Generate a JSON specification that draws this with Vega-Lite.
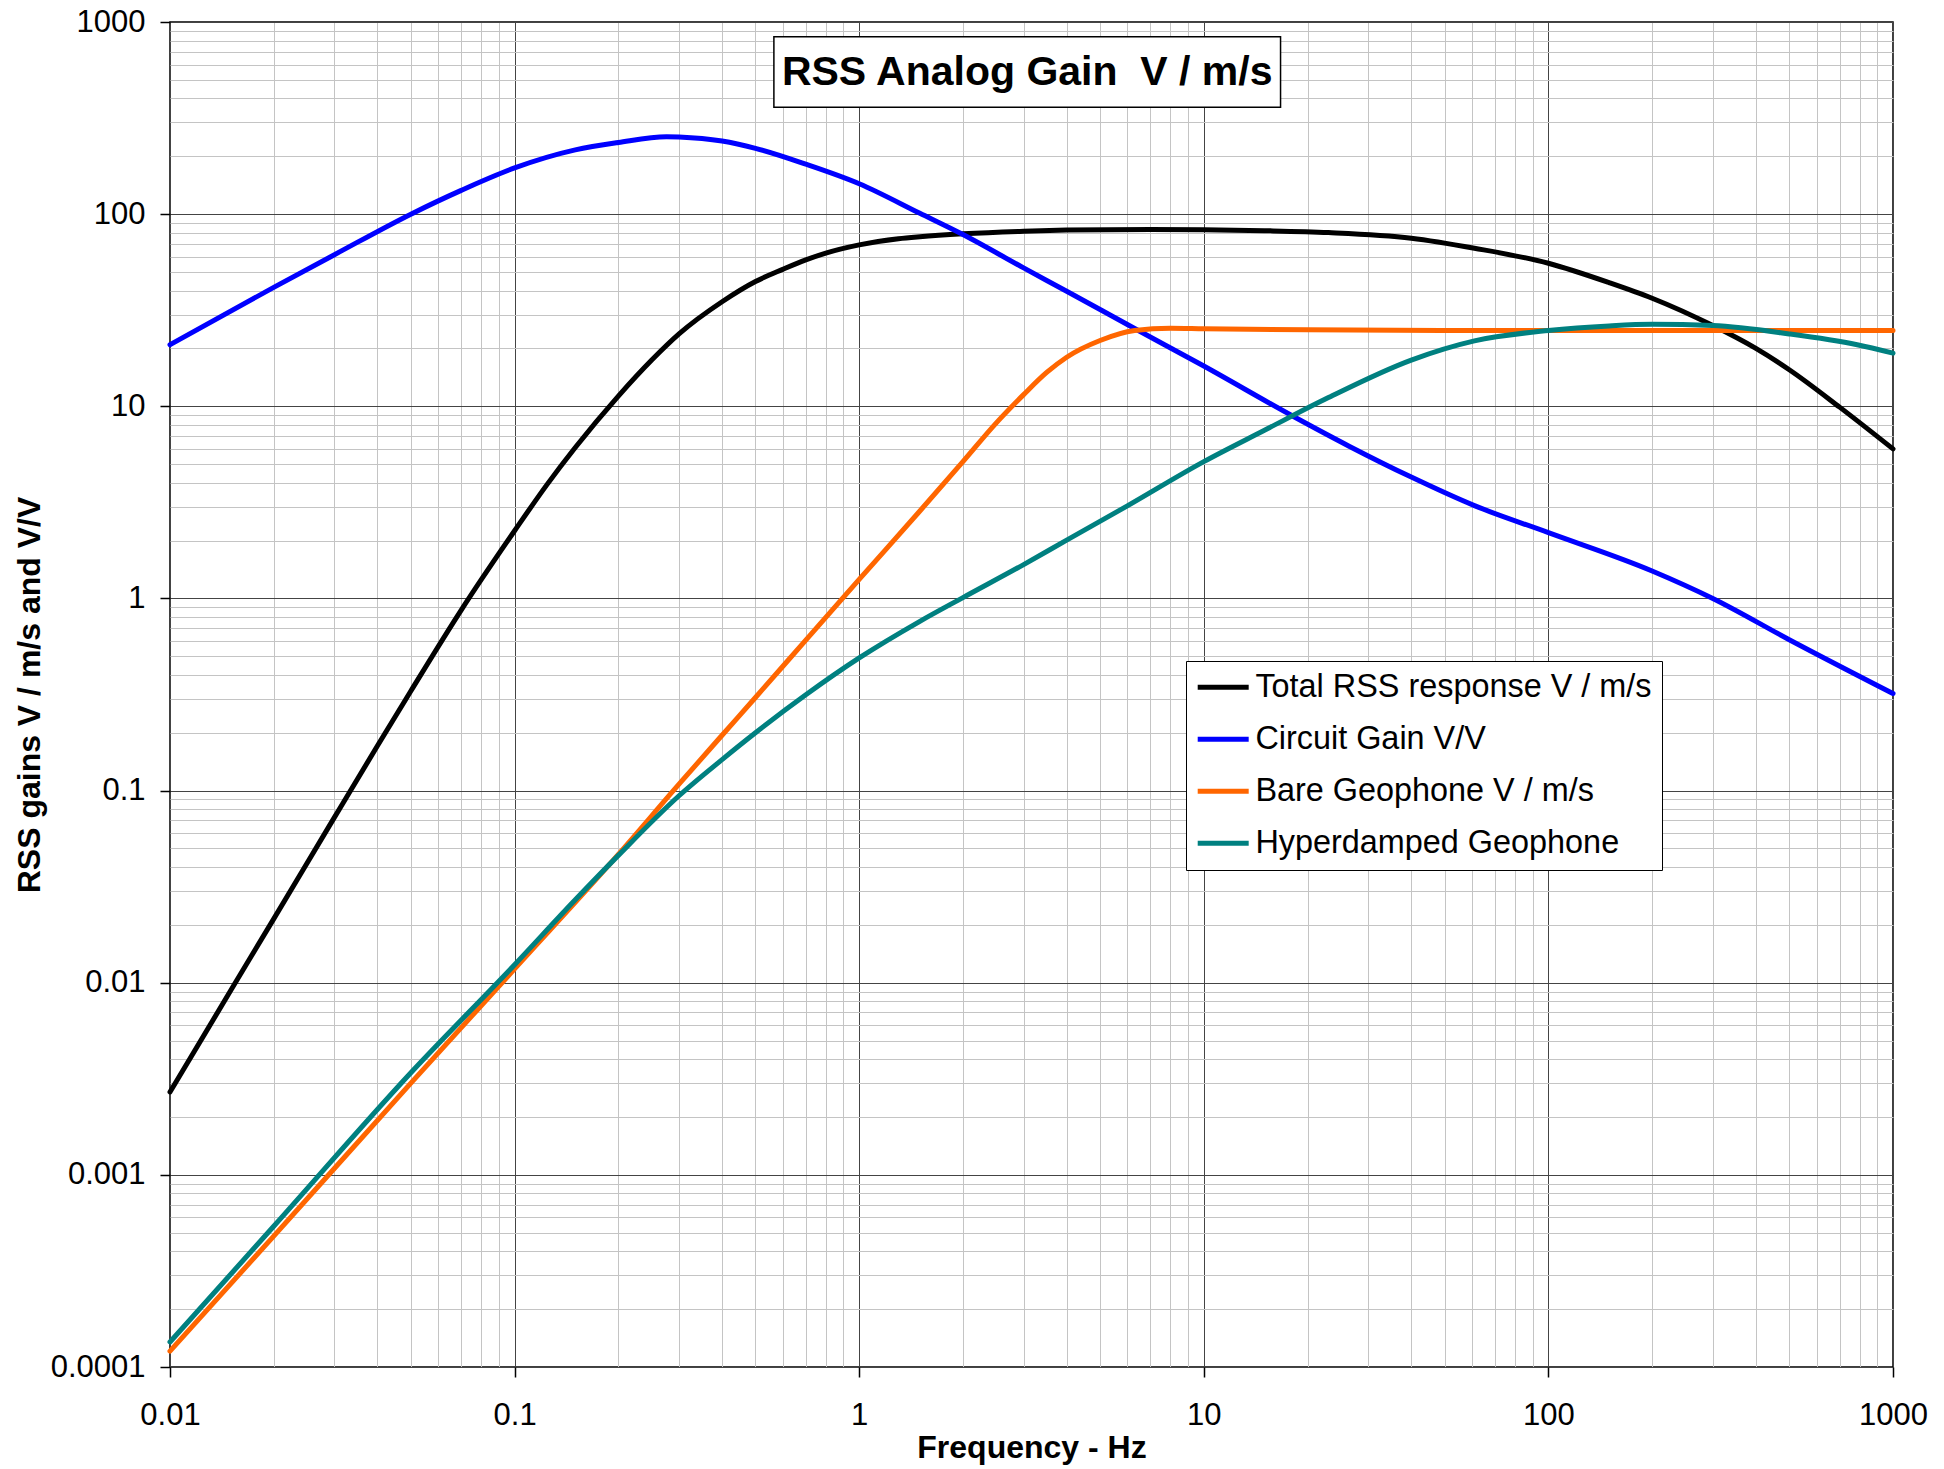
{
  "$schema": "https://vega.github.io/schema/vega-lite/v6.json",
  "width": 1723,
  "height": 1345,
  "autosize": {"type": "none"},
  "padding": {"left": 170, "top": 22, "right": 51, "bottom": 102},
  "background": "white",
  "config": {
    "font": "Liberation Sans",
    "view": {"stroke": "black", "strokeWidth": 1.5}
  },
  "datasets": {
    "curves": [
      {"s": "Total RSS response V / m/s", "f": 0.01, "v": 0.0027},
      {"s": "Total RSS response V / m/s", "f": 0.015, "v": 0.0091},
      {"s": "Total RSS response V / m/s", "f": 0.02, "v": 0.0215},
      {"s": "Total RSS response V / m/s", "f": 0.03, "v": 0.0725},
      {"s": "Total RSS response V / m/s", "f": 0.04, "v": 0.171},
      {"s": "Total RSS response V / m/s", "f": 0.05, "v": 0.33},
      {"s": "Total RSS response V / m/s", "f": 0.07, "v": 0.87},
      {"s": "Total RSS response V / m/s", "f": 0.1, "v": 2.25},
      {"s": "Total RSS response V / m/s", "f": 0.124, "v": 3.9},
      {"s": "Total RSS response V / m/s", "f": 0.15, "v": 6.1},
      {"s": "Total RSS response V / m/s", "f": 0.2, "v": 11.3},
      {"s": "Total RSS response V / m/s", "f": 0.25, "v": 17.4},
      {"s": "Total RSS response V / m/s", "f": 0.3, "v": 23.8},
      {"s": "Total RSS response V / m/s", "f": 0.4, "v": 35},
      {"s": "Total RSS response V / m/s", "f": 0.5, "v": 44.6},
      {"s": "Total RSS response V / m/s", "f": 0.6, "v": 51.6},
      {"s": "Total RSS response V / m/s", "f": 0.7, "v": 57.8},
      {"s": "Total RSS response V / m/s", "f": 0.8, "v": 62.7},
      {"s": "Total RSS response V / m/s", "f": 1, "v": 69.2},
      {"s": "Total RSS response V / m/s", "f": 1.3, "v": 74.5},
      {"s": "Total RSS response V / m/s", "f": 1.5, "v": 76.3},
      {"s": "Total RSS response V / m/s", "f": 2, "v": 79},
      {"s": "Total RSS response V / m/s", "f": 3, "v": 81.5},
      {"s": "Total RSS response V / m/s", "f": 4, "v": 82.6},
      {"s": "Total RSS response V / m/s", "f": 7, "v": 83.3},
      {"s": "Total RSS response V / m/s", "f": 10, "v": 83},
      {"s": "Total RSS response V / m/s", "f": 15, "v": 82},
      {"s": "Total RSS response V / m/s", "f": 23, "v": 80.2},
      {"s": "Total RSS response V / m/s", "f": 40, "v": 75},
      {"s": "Total RSS response V / m/s", "f": 61, "v": 66.5},
      {"s": "Total RSS response V / m/s", "f": 100, "v": 55.5},
      {"s": "Total RSS response V / m/s", "f": 150, "v": 44},
      {"s": "Total RSS response V / m/s", "f": 200, "v": 36.5},
      {"s": "Total RSS response V / m/s", "f": 300, "v": 26.3},
      {"s": "Total RSS response V / m/s", "f": 400, "v": 20},
      {"s": "Total RSS response V / m/s", "f": 500, "v": 15.5},
      {"s": "Total RSS response V / m/s", "f": 700, "v": 9.9},
      {"s": "Total RSS response V / m/s", "f": 1000, "v": 6.0},

      {"s": "Circuit Gain V/V", "f": 0.01, "v": 20.9},
      {"s": "Circuit Gain V/V", "f": 0.02, "v": 41.6},
      {"s": "Circuit Gain V/V", "f": 0.03, "v": 61.5},
      {"s": "Circuit Gain V/V", "f": 0.05, "v": 100},
      {"s": "Circuit Gain V/V", "f": 0.07, "v": 133},
      {"s": "Circuit Gain V/V", "f": 0.1, "v": 174},
      {"s": "Circuit Gain V/V", "f": 0.15, "v": 216},
      {"s": "Circuit Gain V/V", "f": 0.2, "v": 236},
      {"s": "Circuit Gain V/V", "f": 0.276, "v": 253},
      {"s": "Circuit Gain V/V", "f": 0.3, "v": 252},
      {"s": "Circuit Gain V/V", "f": 0.4, "v": 240},
      {"s": "Circuit Gain V/V", "f": 0.5, "v": 220},
      {"s": "Circuit Gain V/V", "f": 0.7, "v": 182},
      {"s": "Circuit Gain V/V", "f": 1, "v": 144},
      {"s": "Circuit Gain V/V", "f": 1.5, "v": 101},
      {"s": "Circuit Gain V/V", "f": 2, "v": 78.3},
      {"s": "Circuit Gain V/V", "f": 3, "v": 52.5},
      {"s": "Circuit Gain V/V", "f": 4, "v": 39.7},
      {"s": "Circuit Gain V/V", "f": 6.3, "v": 25.4},
      {"s": "Circuit Gain V/V", "f": 10, "v": 16.2},
      {"s": "Circuit Gain V/V", "f": 18.1, "v": 8.9},
      {"s": "Circuit Gain V/V", "f": 26.4, "v": 6.2},
      {"s": "Circuit Gain V/V", "f": 40, "v": 4.28},
      {"s": "Circuit Gain V/V", "f": 61, "v": 3.04},
      {"s": "Circuit Gain V/V", "f": 100, "v": 2.2},
      {"s": "Circuit Gain V/V", "f": 200, "v": 1.39},
      {"s": "Circuit Gain V/V", "f": 300, "v": 1.0},
      {"s": "Circuit Gain V/V", "f": 500, "v": 0.61},
      {"s": "Circuit Gain V/V", "f": 1000, "v": 0.32},

      {"s": "Bare Geophone V / m/s", "f": 0.01, "v": 0.000121},
      {"s": "Bare Geophone V / m/s", "f": 0.02, "v": 0.00048},
      {"s": "Bare Geophone V / m/s", "f": 0.05, "v": 0.003},
      {"s": "Bare Geophone V / m/s", "f": 0.1, "v": 0.0118},
      {"s": "Bare Geophone V / m/s", "f": 0.2, "v": 0.0465},
      {"s": "Bare Geophone V / m/s", "f": 0.3, "v": 0.108},
      {"s": "Bare Geophone V / m/s", "f": 0.4, "v": 0.194},
      {"s": "Bare Geophone V / m/s", "f": 0.5, "v": 0.305},
      {"s": "Bare Geophone V / m/s", "f": 0.7, "v": 0.607},
      {"s": "Bare Geophone V / m/s", "f": 1, "v": 1.256},
      {"s": "Bare Geophone V / m/s", "f": 1.5, "v": 2.85},
      {"s": "Bare Geophone V / m/s", "f": 2, "v": 5.15},
      {"s": "Bare Geophone V / m/s", "f": 2.5, "v": 8.2},
      {"s": "Bare Geophone V / m/s", "f": 3, "v": 11.5},
      {"s": "Bare Geophone V / m/s", "f": 3.5, "v": 15},
      {"s": "Bare Geophone V / m/s", "f": 4, "v": 18},
      {"s": "Bare Geophone V / m/s", "f": 5, "v": 22},
      {"s": "Bare Geophone V / m/s", "f": 6.3, "v": 24.8},
      {"s": "Bare Geophone V / m/s", "f": 8, "v": 25.5},
      {"s": "Bare Geophone V / m/s", "f": 10, "v": 25.3},
      {"s": "Bare Geophone V / m/s", "f": 20, "v": 25},
      {"s": "Bare Geophone V / m/s", "f": 50, "v": 24.8},
      {"s": "Bare Geophone V / m/s", "f": 100, "v": 24.8},
      {"s": "Bare Geophone V / m/s", "f": 1000, "v": 24.8},

      {"s": "Hyperdamped Geophone", "f": 0.01, "v": 0.000135},
      {"s": "Hyperdamped Geophone", "f": 0.02, "v": 0.00054},
      {"s": "Hyperdamped Geophone", "f": 0.05, "v": 0.0034},
      {"s": "Hyperdamped Geophone", "f": 0.1, "v": 0.0124},
      {"s": "Hyperdamped Geophone", "f": 0.15, "v": 0.027},
      {"s": "Hyperdamped Geophone", "f": 0.2, "v": 0.046},
      {"s": "Hyperdamped Geophone", "f": 0.3, "v": 0.094},
      {"s": "Hyperdamped Geophone", "f": 0.4, "v": 0.145},
      {"s": "Hyperdamped Geophone", "f": 0.5, "v": 0.2},
      {"s": "Hyperdamped Geophone", "f": 0.7, "v": 0.315},
      {"s": "Hyperdamped Geophone", "f": 1, "v": 0.49},
      {"s": "Hyperdamped Geophone", "f": 1.5, "v": 0.76},
      {"s": "Hyperdamped Geophone", "f": 2, "v": 1.01},
      {"s": "Hyperdamped Geophone", "f": 3, "v": 1.5},
      {"s": "Hyperdamped Geophone", "f": 4, "v": 2.01},
      {"s": "Hyperdamped Geophone", "f": 6, "v": 3.03},
      {"s": "Hyperdamped Geophone", "f": 10, "v": 5.15},
      {"s": "Hyperdamped Geophone", "f": 15, "v": 7.5},
      {"s": "Hyperdamped Geophone", "f": 23, "v": 11.1},
      {"s": "Hyperdamped Geophone", "f": 40, "v": 17.4},
      {"s": "Hyperdamped Geophone", "f": 61, "v": 21.9},
      {"s": "Hyperdamped Geophone", "f": 100, "v": 24.8},
      {"s": "Hyperdamped Geophone", "f": 150, "v": 26.2},
      {"s": "Hyperdamped Geophone", "f": 200, "v": 26.7},
      {"s": "Hyperdamped Geophone", "f": 300, "v": 26.3},
      {"s": "Hyperdamped Geophone", "f": 500, "v": 23.8},
      {"s": "Hyperdamped Geophone", "f": 787, "v": 20.9},
      {"s": "Hyperdamped Geophone", "f": 1000, "v": 18.9}
    ]
  },
  "layer": [
    {
      "data": {"name": "curves"},
      "mark": {"type": "line", "strokeWidth": 5, "interpolate": "monotone", "strokeCap": "round", "strokeJoin": "round"},
      "encoding": {
        "x": {
          "field": "f", "type": "quantitative",
          "scale": {"type": "log", "domain": [0.01, 1000], "nice": false},
          "axis": {
            "title": "Frequency - Hz",
            "values": [0.01,0.02,0.03,0.04,0.05,0.06,0.07,0.08,0.09,0.1,0.2,0.3,0.4,0.5,0.6,0.7,0.8,0.9,1,2,3,4,5,6,7,8,9,10,20,30,40,50,60,70,80,90,100,200,300,400,500,600,700,800,900,1000],
            "grid": true,
            "gridColor": {"condition": {"test": "abs(log(datum.value)/LN10 - round(log(datum.value)/LN10)) < 0.001", "value": "#444444"}, "value": "#c4c4c4"},
            "gridWidth": 1,
            "tickOpacity": {"condition": {"test": "abs(log(datum.value)/LN10 - round(log(datum.value)/LN10)) < 0.001", "value": 1}, "value": 0},
            "tickColor": "black", "tickSize": 10, "tickWidth": 1.5,
            "labelExpr": "abs(log(datum.value)/LN10 - round(log(datum.value)/LN10)) < 0.001 ? format(datum.value, '~g') : ''",
            "labelFontSize": 31, "labelColor": "black", "labelPadding": 23, "labelFont": "Liberation Sans",
            "labelOverlap": false, "labelFlush": false, "labelBound": false,
            "domain": false,
            "titleFontSize": 32, "titleFontWeight": "bold", "titleColor": "black", "titleFont": "Liberation Sans",
            "titleY": 80, "titleBaseline": "middle"
          }
        },
        "y": {
          "field": "v", "type": "quantitative",
          "scale": {"type": "log", "domain": [0.0001, 1000], "nice": false},
          "axis": {
            "title": "RSS gains V / m/s and V/V",
            "values": [0.0001,0.0002,0.0003,0.0004,0.0005,0.0006,0.0007,0.0008,0.0009,0.001,0.002,0.003,0.004,0.005,0.006,0.007,0.008,0.009,0.01,0.02,0.03,0.04,0.05,0.06,0.07,0.08,0.09,0.1,0.2,0.3,0.4,0.5,0.6,0.7,0.8,0.9,1,2,3,4,5,6,7,8,9,10,20,30,40,50,60,70,80,90,100,200,300,400,500,600,700,800,900,1000],
            "grid": true,
            "gridColor": {"condition": {"test": "abs(log(datum.value)/LN10 - round(log(datum.value)/LN10)) < 0.001", "value": "#444444"}, "value": "#c4c4c4"},
            "gridWidth": 1,
            "tickOpacity": {"condition": {"test": "abs(log(datum.value)/LN10 - round(log(datum.value)/LN10)) < 0.001", "value": 1}, "value": 0},
            "tickColor": "black", "tickSize": 10, "tickWidth": 1.5,
            "labelExpr": "abs(log(datum.value)/LN10 - round(log(datum.value)/LN10)) < 0.001 ? format(datum.value, '~g') : ''",
            "labelFontSize": 31, "labelColor": "black", "labelPadding": 15, "labelFont": "Liberation Sans",
            "labelOverlap": false, "labelFlush": false, "labelBound": false,
            "domain": false,
            "titleFontSize": 32, "titleFontWeight": "bold", "titleColor": "black", "titleFont": "Liberation Sans",
            "titleX": -141, "titleBaseline": "middle"
          }
        },
        "color": {
          "field": "s", "type": "nominal",
          "scale": {
            "domain": ["Total RSS response V / m/s", "Circuit Gain V/V", "Bare Geophone V / m/s", "Hyperdamped Geophone"],
            "range": ["#000000", "#0000ff", "#ff6600", "#008080"]
          },
          "legend": {
            "orient": "none", "legendX": 1016, "legendY": 639, "direction": "vertical",
            "title": null,
            "symbolType": "M-2,0H2", "symbolSize": 650, "symbolStrokeWidth": 5, "symbolOffset": 11,
            "labelFontSize": 32.4, "labelColor": "black", "labelFont": "Liberation Sans", "labelOffset": 16, "labelLimit": 1000,
            "rowPadding": 19, "padding": 10,
            "strokeColor": "black", "fillColor": "white", "cornerRadius": 0
          }
        }
      }
    },
    {
      "data": {"values": [{}]},
      "mark": {"type": "rect", "fill": "white", "stroke": "black", "strokeWidth": 1.5},
      "encoding": {
        "x": {"datum": 0.5655, "type": "quantitative"},
        "x2": {"datum": 16.7},
        "y": {"datum": 838.6, "type": "quantitative"},
        "y2": {"datum": 359.7}
      }
    },
    {
      "data": {"values": [{}]},
      "mark": {"type": "text", "fontSize": 41, "fontWeight": "bold", "font": "Liberation Sans", "align": "center", "baseline": "middle", "color": "black"},
      "encoding": {
        "x": {"datum": 3.073, "type": "quantitative"},
        "y": {"datum": 542.6, "type": "quantitative"},
        "text": {"value": "RSS Analog Gain\u00a0 V / m/s"}
      }
    }
  ]
}
